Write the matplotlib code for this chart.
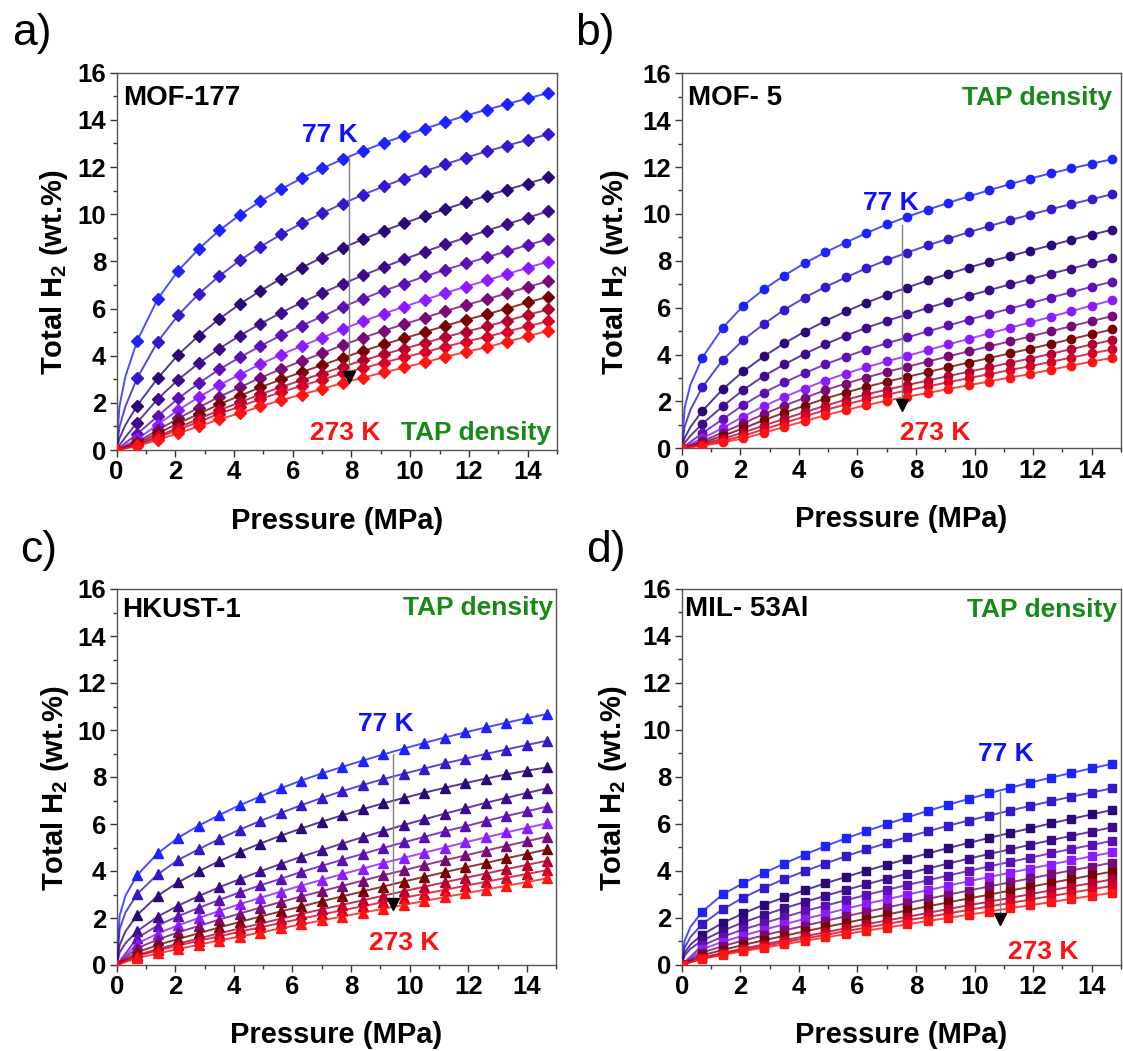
import matplotlib
matplotlib.use('Agg')
import matplotlib.pyplot as plt
from matplotlib.ticker import MultipleLocator

plt.rcParams['font.family'] = 'Liberation Sans'
plt.rcParams['font.weight'] = 'bold'
plt.rcParams['mathtext.fontset'] = 'custom'
plt.rcParams['mathtext.rm'] = 'Liberation Sans:bold'
plt.rcParams['mathtext.bf'] = 'Liberation Sans:bold'
plt.rcParams['mathtext.it'] = 'Liberation Sans:bold'

# ---- data: H2 uptake (wt.%) vs pressure, 11 isotherms 77 K (top) -> 273 K (bottom)
pressure = [0.0, 0.7, 1.4, 2.1, 2.8, 3.5, 4.2, 4.9, 5.6, 6.3, 7.0,
            7.7, 8.4, 9.1, 9.8, 10.5, 11.2, 11.9, 12.6, 13.3, 14.0, 14.7]
p_low = [0.1, 0.3]   # extra points on the fitted lines of the 4 coldest curves

mof177 = [
    [0, 4.62, 6.40, 7.60, 8.53, 9.31, 9.97, 10.55, 11.06, 11.52, 11.94, 12.33, 12.69, 13.02, 13.33, 13.63, 13.91, 14.18, 14.43, 14.67, 14.91, 15.14],
    [0, 3.04, 4.59, 5.72, 6.62, 7.38, 8.04, 8.62, 9.14, 9.61, 10.04, 10.45, 10.83, 11.18, 11.51, 11.82, 12.12, 12.40, 12.66, 12.91, 13.15, 13.39],
    [0, 1.88, 3.04, 4.04, 4.85, 5.56, 6.19, 6.75, 7.26, 7.73, 8.16, 8.57, 8.94, 9.29, 9.62, 9.93, 10.22, 10.50, 10.78, 11.04, 11.30, 11.56],
    [0, 1.16, 2.16, 2.98, 3.68, 4.30, 4.85, 5.35, 5.82, 6.25, 6.66, 7.04, 7.41, 7.76, 8.09, 8.41, 8.72, 9.01, 9.30, 9.58, 9.85, 10.13],
    [0, 0.68, 1.43, 2.19, 2.83, 3.42, 3.93, 4.41, 4.86, 5.27, 5.66, 6.07, 6.42, 6.75, 7.06, 7.36, 7.65, 7.91, 8.17, 8.43, 8.69, 8.94],
    [0, 0.45, 1.08, 1.69, 2.24, 2.75, 3.20, 3.64, 4.04, 4.41, 4.76, 5.13, 5.46, 5.78, 6.08, 6.37, 6.66, 6.93, 7.19, 7.46, 7.73, 7.99],
    [0, 0.34, 0.84, 1.34, 1.80, 2.26, 2.66, 3.06, 3.43, 3.77, 4.10, 4.45, 4.76, 5.06, 5.34, 5.61, 5.89, 6.15, 6.39, 6.65, 6.91, 7.16],
    [0, 0.28, 0.70, 1.13, 1.53, 1.94, 2.30, 2.66, 2.99, 3.30, 3.60, 3.91, 4.20, 4.48, 4.74, 5.00, 5.27, 5.52, 5.75, 6.00, 6.26, 6.50],
    [0, 0.23, 0.58, 0.95, 1.32, 1.69, 2.02, 2.36, 2.67, 2.96, 3.24, 3.53, 3.80, 4.06, 4.30, 4.54, 4.79, 5.02, 5.24, 5.48, 5.73, 5.96],
    [0, 0.20, 0.52, 0.86, 1.19, 1.54, 1.84, 2.16, 2.45, 2.72, 2.98, 3.25, 3.47, 3.71, 3.93, 4.15, 4.38, 4.60, 4.80, 5.02, 5.25, 5.46],
    [0, 0.16, 0.43, 0.71, 1.00, 1.30, 1.56, 1.85, 2.11, 2.35, 2.59, 2.84, 3.07, 3.29, 3.50, 3.72, 3.95, 4.16, 4.36, 4.59, 4.82, 5.06],
]
mof177_low = [[1.85, 3.10], [0.96, 1.84], [0.49, 1.05], [0.20, 0.54]]

mof5 = [
    [0, 3.86, 5.14, 6.08, 6.78, 7.37, 7.90, 8.36, 8.78, 9.18, 9.55, 9.88, 10.18, 10.47, 10.75, 11.01, 11.27, 11.51, 11.73, 11.94, 12.14, 12.34],
    [0, 2.60, 3.77, 4.62, 5.30, 5.91, 6.43, 6.88, 7.29, 7.68, 8.03, 8.35, 8.66, 8.94, 9.22, 9.48, 9.73, 9.97, 10.20, 10.42, 10.63, 10.84],
    [0, 1.59, 2.52, 3.28, 3.92, 4.48, 4.98, 5.43, 5.84, 6.21, 6.55, 6.86, 7.16, 7.44, 7.71, 7.96, 8.20, 8.43, 8.66, 8.89, 9.11, 9.33],
    [0, 1.04, 1.79, 2.49, 3.08, 3.58, 4.03, 4.44, 4.81, 5.14, 5.44, 5.71, 5.99, 6.25, 6.51, 6.75, 6.99, 7.22, 7.45, 7.67, 7.89, 8.10],
    [0, 0.64, 1.24, 1.85, 2.37, 2.81, 3.21, 3.58, 3.91, 4.21, 4.48, 4.73, 4.99, 5.24, 5.49, 5.72, 5.96, 6.19, 6.43, 6.66, 6.89, 7.11],
    [0, 0.42, 0.87, 1.35, 1.80, 2.19, 2.55, 2.89, 3.19, 3.46, 3.71, 3.94, 4.19, 4.43, 4.67, 4.90, 5.14, 5.37, 5.61, 5.85, 6.09, 6.32],
    [0, 0.31, 0.67, 1.06, 1.46, 1.82, 2.15, 2.48, 2.76, 3.02, 3.26, 3.48, 3.70, 3.92, 4.14, 4.35, 4.56, 4.77, 4.99, 5.21, 5.43, 5.64],
    [0, 0.24, 0.53, 0.85, 1.20, 1.52, 1.82, 2.12, 2.38, 2.62, 2.84, 3.05, 3.25, 3.46, 3.66, 3.85, 4.05, 4.25, 4.45, 4.66, 4.87, 5.07],
    [0, 0.18, 0.41, 0.67, 0.97, 1.26, 1.54, 1.82, 2.07, 2.30, 2.50, 2.70, 2.89, 3.08, 3.27, 3.45, 3.65, 3.83, 4.03, 4.23, 4.43, 4.62],
    [0, 0.14, 0.32, 0.53, 0.81, 1.08, 1.36, 1.63, 1.87, 2.09, 2.29, 2.47, 2.64, 2.82, 2.99, 3.16, 3.34, 3.50, 3.69, 3.87, 4.05, 4.22],
    [0, 0.11, 0.25, 0.42, 0.66, 0.91, 1.16, 1.41, 1.63, 1.84, 2.03, 2.20, 2.36, 2.53, 2.69, 2.85, 3.02, 3.17, 3.35, 3.53, 3.70, 3.86],
]
mof5_low = [[1.73, 2.72], [0.92, 1.65], [0.44, 0.91], [0.23, 0.54]]

hkust1 = [
    [0, 3.83, 4.75, 5.42, 5.93, 6.38, 6.80, 7.17, 7.52, 7.85, 8.15, 8.43, 8.70, 8.96, 9.21, 9.45, 9.68, 9.90, 10.11, 10.31, 10.50, 10.68],
    [0, 3.02, 3.86, 4.47, 4.93, 5.36, 5.76, 6.13, 6.47, 6.80, 7.11, 7.40, 7.66, 7.91, 8.14, 8.36, 8.58, 8.78, 8.98, 9.17, 9.36, 9.55],
    [0, 2.13, 2.95, 3.52, 3.99, 4.42, 4.81, 5.17, 5.50, 5.81, 6.10, 6.37, 6.63, 6.88, 7.11, 7.33, 7.54, 7.74, 7.93, 8.11, 8.27, 8.41],
    [0, 1.44, 2.06, 2.53, 2.93, 3.31, 3.65, 3.99, 4.30, 4.61, 4.89, 5.17, 5.44, 5.70, 5.96, 6.20, 6.44, 6.67, 6.90, 7.11, 7.32, 7.52],
    [0, 1.15, 1.68, 2.08, 2.43, 2.77, 3.09, 3.39, 3.67, 3.96, 4.22, 4.48, 4.73, 4.98, 5.22, 5.45, 5.69, 5.90, 6.13, 6.34, 6.54, 6.74],
    [0, 0.91, 1.34, 1.69, 2.00, 2.30, 2.59, 2.86, 3.12, 3.38, 3.62, 3.87, 4.10, 4.34, 4.56, 4.78, 5.00, 5.22, 5.43, 5.64, 5.84, 6.03],
    [0, 0.72, 1.08, 1.39, 1.66, 1.93, 2.19, 2.44, 2.68, 2.92, 3.14, 3.37, 3.59, 3.82, 4.03, 4.25, 4.46, 4.66, 4.87, 5.07, 5.27, 5.46],
    [0, 0.54, 0.85, 1.11, 1.35, 1.60, 1.83, 2.06, 2.28, 2.49, 2.71, 2.92, 3.13, 3.34, 3.55, 3.75, 3.95, 4.15, 4.34, 4.54, 4.73, 4.92],
    [0, 0.42, 0.68, 0.91, 1.13, 1.35, 1.56, 1.76, 1.97, 2.17, 2.37, 2.56, 2.75, 2.95, 3.14, 3.33, 3.52, 3.71, 3.89, 4.08, 4.26, 4.44],
    [0, 0.38, 0.62, 0.83, 1.03, 1.22, 1.42, 1.60, 1.79, 1.97, 2.15, 2.33, 2.50, 2.68, 2.86, 3.03, 3.20, 3.37, 3.54, 3.71, 3.87, 4.04],
    [0, 0.29, 0.49, 0.68, 0.86, 1.04, 1.21, 1.38, 1.56, 1.73, 1.90, 2.06, 2.23, 2.39, 2.56, 2.72, 2.89, 3.05, 3.21, 3.37, 3.53, 3.69],
]
hkust1_low = [[2.10, 2.95], [1.52, 2.24], [0.85, 1.43], [0.53, 0.93]]

mil53 = [
    [0, 2.27, 3.00, 3.48, 3.91, 4.31, 4.69, 5.05, 5.38, 5.69, 5.99, 6.27, 6.55, 6.81, 7.06, 7.30, 7.53, 7.75, 7.96, 8.16, 8.36, 8.55],
    [0, 1.74, 2.37, 2.86, 3.28, 3.65, 3.99, 4.31, 4.62, 4.91, 5.18, 5.44, 5.68, 5.92, 6.14, 6.35, 6.56, 6.76, 6.96, 7.15, 7.33, 7.51],
    [0, 1.29, 1.79, 2.19, 2.56, 2.87, 3.18, 3.47, 3.74, 4.01, 4.26, 4.51, 4.74, 4.97, 5.19, 5.40, 5.61, 5.81, 6.02, 6.21, 6.40, 6.59],
    [0, 1.04, 1.46, 1.81, 2.12, 2.41, 2.68, 2.94, 3.19, 3.43, 3.66, 3.88, 4.10, 4.31, 4.52, 4.72, 4.91, 5.11, 5.30, 5.49, 5.67, 5.85],
    [0, 0.83, 1.20, 1.51, 1.78, 2.04, 2.29, 2.52, 2.75, 2.98, 3.19, 3.40, 3.60, 3.80, 4.00, 4.19, 4.38, 4.56, 4.75, 4.93, 5.10, 5.28],
    [0, 0.67, 0.99, 1.25, 1.50, 1.73, 1.96, 2.17, 2.39, 2.60, 2.79, 2.99, 3.18, 3.37, 3.56, 3.74, 3.92, 4.10, 4.27, 4.45, 4.62, 4.79],
    [0, 0.53, 0.80, 1.04, 1.26, 1.47, 1.67, 1.87, 2.07, 2.26, 2.44, 2.63, 2.81, 2.99, 3.16, 3.34, 3.51, 3.68, 3.85, 4.02, 4.18, 4.35],
    [0, 0.41, 0.64, 0.85, 1.05, 1.24, 1.43, 1.61, 1.79, 1.97, 2.14, 2.32, 2.49, 2.66, 2.83, 2.99, 3.16, 3.32, 3.49, 3.65, 3.81, 3.97],
    [0, 0.31, 0.51, 0.70, 0.87, 1.05, 1.22, 1.39, 1.56, 1.73, 1.89, 2.05, 2.21, 2.38, 2.54, 2.69, 2.85, 3.01, 3.17, 3.33, 3.48, 3.64],
    [0, 0.29, 0.47, 0.64, 0.80, 0.97, 1.13, 1.28, 1.44, 1.59, 1.74, 1.90, 2.04, 2.19, 2.34, 2.49, 2.63, 2.78, 2.93, 3.07, 3.22, 3.36],
    [0, 0.26, 0.43, 0.59, 0.73, 0.88, 1.03, 1.17, 1.31, 1.46, 1.59, 1.73, 1.87, 2.00, 2.14, 2.27, 2.41, 2.54, 2.67, 2.81, 2.94, 3.07],
]
mil53_low = [[1.04, 1.62], [0.73, 1.19], [0.52, 0.87], [0.40, 0.69]]

# blue (77 K) -> purple -> dark red -> red (273 K)
curve_colors = ['#1e22ff', '#3318cc', '#2a0878', '#3c0a8c', '#5a10b4', '#8c1cff',
                '#780a78', '#780000', '#b4002c', '#d80024', '#ff1414']

# per-panel layout: axes rect (px), marker, annotation spots (data coords)
panels = [
    dict(letter='a)', letter_xy=(12, 45), rect=(116.5, 72.7, 440.5, 377.3), ylab_x=-0.105,
         name='MOF-177', data=mof177, low=mof177_low, marker='D', ms=6.0,
         name_xy=(0.23, 14.62), tap_xy=(14.80, 0.42), hot_xy=(6.59, 0.42),
         cold_xy=(6.33, 13.06), arrow=(7.92, 12.5, 2.89)),
    dict(letter='b)', letter_xy=(575, 45), rect=(681.7, 73.3, 439.3, 375.0), ylab_x=-0.115,
         name='MOF- 5', data=mof5, low=mof5_low, marker='o', ms=6.0,
         name_xy=(0.23, 14.64), tap_xy=(14.68, 14.64), hot_xy=(7.45, 0.35),
         cold_xy=(6.2, 10.16), arrow=(7.53, 9.52, 1.63)),
    dict(letter='c)', letter_xy=(20, 562), rect=(116.7, 589.0, 439.4, 376.0), ylab_x=-0.105,
         name='HKUST-1', data=hkust1, low=hkust1_low, marker='^', ms=6.5,
         name_xy=(0.17, 14.82), tap_xy=(14.91, 14.89), hot_xy=(8.62, 0.64),
         cold_xy=(8.25, 9.97), arrow=(9.44, 8.97, 2.41)),
    dict(letter='d)', letter_xy=(586, 562), rect=(681.7, 588.5, 439.3, 376.5), ylab_x=-0.12,
         name='MIL- 53Al', data=mil53, low=mil53_low, marker='s', ms=5.5,
         name_xy=(0.11, 14.85), tap_xy=(14.85, 14.80), hot_xy=(11.13, 0.24),
         cold_xy=(10.13, 8.68), arrow=(10.87, 7.37, 1.74)),
]

W, H = 1123, 1051
fig = plt.figure(figsize=(W / 100, H / 100), dpi=100)

for pn in panels:
    x0, ytop, w, h = pn['rect']
    ax = fig.add_axes([x0 / W, 1 - (ytop + h) / H, w / W, h / H])

    for i, (vals, col) in enumerate(zip(pn['data'], curve_colors)):
        if i < len(pn['low']):
            lx = [pressure[0]] + p_low + pressure[1:]
            ly = [vals[0]] + pn['low'][i] + vals[1:]
        else:
            lx, ly = pressure, vals
        ax.plot(lx, ly, '-', color=col, lw=1.4, alpha=0.8, zorder=2 + i)
        ax.plot(pressure, vals, linestyle='none', marker=pn['marker'], ms=pn['ms'],
                color=col, mec=col, zorder=2 + i)

    ax.set_xlim(0, 15)
    ax.set_ylim(0, 16)
    ax.xaxis.set_major_locator(MultipleLocator(2))
    ax.xaxis.set_minor_locator(MultipleLocator(1))
    ax.yaxis.set_major_locator(MultipleLocator(2))
    ax.yaxis.set_minor_locator(MultipleLocator(1))
    ax.tick_params(which='both', direction='out', top=False, right=False,
                   colors='#333333', width=1.0)
    ax.tick_params(which='major', length=5, labelsize=18.5, labelcolor='black', pad=2.5)
    ax.tick_params(which='minor', length=3)
    for sp in ax.spines.values():
        sp.set_color('#555555')
        sp.set_linewidth(1.0)
    for lab in ax.get_xticklabels() + ax.get_yticklabels():
        lab.set_fontweight('bold')

    ax.set_xlabel('Pressure (MPa)', fontsize=21, fontweight='bold')
    ax.set_ylabel(r'Total H$_{2}$ (wt.%)', fontsize=21, fontweight='bold')
    ax.xaxis.set_label_coords(0.5, -0.15)
    ax.yaxis.set_label_coords(pn['ylab_x'], 0.47)

    ax.text(*pn['name_xy'], pn['name'], fontsize=20, fontweight='bold',
            color='black', ha='left', va='baseline', zorder=20)
    ax.text(*pn['tap_xy'], 'TAP density', fontsize=19, fontweight='bold',
            color='#168a16', ha='right', va='baseline', zorder=20)
    ax.text(*pn['cold_xy'], '77 K', fontsize=19, fontweight='bold',
            color='#1010ff', ha='left', va='baseline', zorder=20)
    ax.text(*pn['hot_xy'], '273 K', fontsize=19, fontweight='bold',
            color='#ff1010', ha='left', va='baseline', zorder=20)

    ax_x, a_top, a_tip = pn['arrow']
    ax.plot([ax_x, ax_x], [a_top, a_tip + 0.25], color='#808080', lw=1.0, zorder=30)
    ax.plot([ax_x], [a_tip + 0.2], marker='v', ms=9, color='black', zorder=31)

    fig.text(pn['letter_xy'][0] / W, 1 - pn['letter_xy'][1] / H, pn['letter'],
             fontsize=32, fontweight='normal', ha='left', va='baseline')

fig.savefig('out.png', dpi=100)
